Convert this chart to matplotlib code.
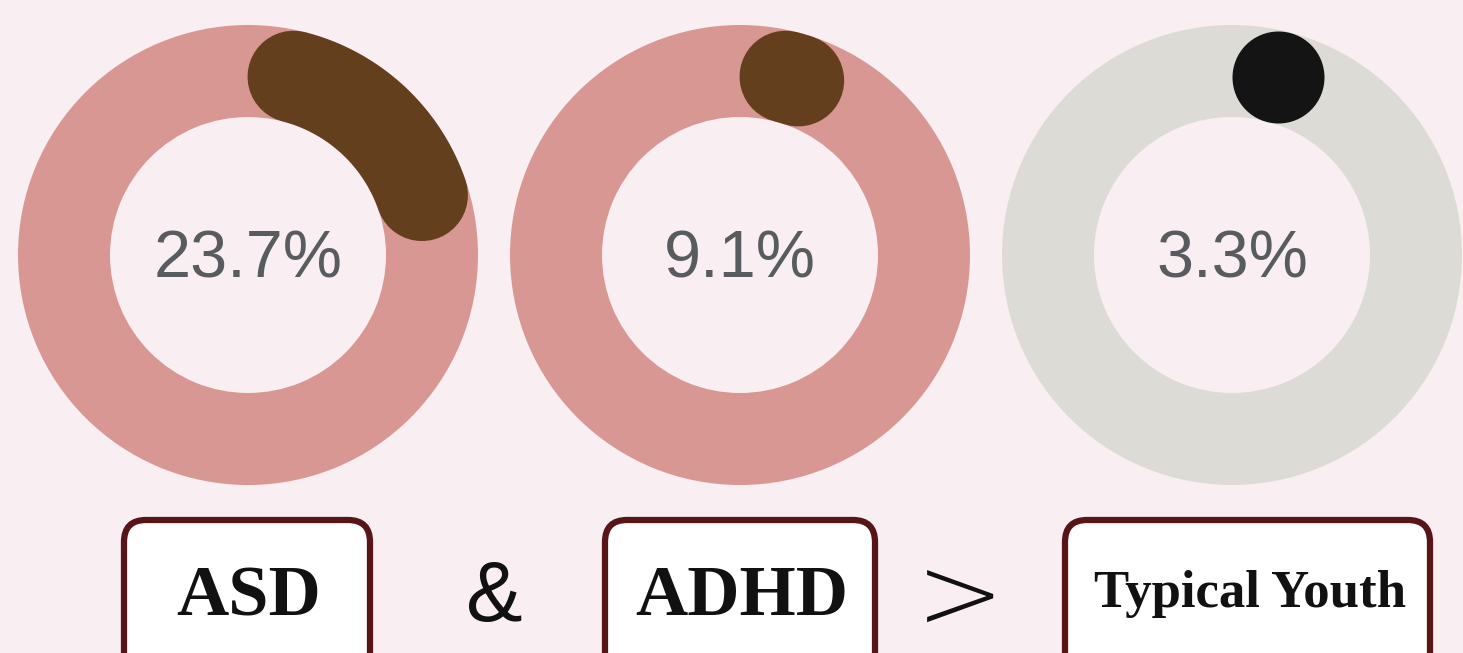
import numpy as np
import matplotlib
matplotlib.use("Agg")
import matplotlib.pyplot as plt
from matplotlib.patches import Wedge, FancyBboxPatch

# data
groups = ["ASD", "ADHD", "Typical Youth"]
rates = [23.7, 9.1, 3.3]
ring_colors = ["#D99794", "#D99794", "#DCDBD6"]
arc_colors = ["#643F1E", "#643F1E", "#141414"]
label_sizes = [52, 52, 38]
connectors = ["&", ">"]

bg = "#F9EEF2"
W, H = 1463, 653

fig = plt.figure(figsize=(W / 100, H / 100), dpi=100)
fig.patch.set_facecolor(bg)
ax = fig.add_axes([0, 0, 1, 1])
ax.set_xlim(0, W)
ax.set_ylim(H, 0)
ax.set_aspect("equal")
ax.axis("off")

centers = [248, 740, 1232]
cy = 255
r_out = 230
ring_w = 92
r_mid = r_out - ring_w / 2
lw_pt = ring_w * 72 / 100
cap = np.degrees((ring_w / 2) / r_mid)

for cx, rate, rc, ac in zip(centers, rates, ring_colors, arc_colors):
    ax.add_patch(Wedge((cx, cy), r_out, 0, 360, width=ring_w, facecolor=rc, edgecolor="none"))
    start = cap
    end = rate * 3.6 - cap
    if end > start:
        th = np.radians(np.linspace(start, end, 100))
        ax.plot(cx + r_mid * np.sin(th), cy - r_mid * np.cos(th), color=ac,
                lw=lw_pt, solid_capstyle="round")
    else:
        th = np.radians(start)
        ax.plot([cx + r_mid * np.sin(th)], [cy - r_mid * np.cos(th)], "o", color=ac,
                markersize=lw_pt, markeredgewidth=0)
    ax.text(cx, 277, f"{rate}%", ha="center", va="baseline", fontsize=48,
            family="Liberation Sans", color="#585C5E")

# label boxes
boxes = [(124, 370), (605, 875), (1065, 1430)]
label_y = [615, 615, 607]
for (x0, x1), name, fs, ly in zip(boxes, groups, label_sizes, label_y):
    ax.add_patch(FancyBboxPatch((x0, 520), x1 - x0, 160,
                                boxstyle="round,pad=0,rounding_size=22",
                                facecolor="white", edgecolor="#571518", lw=4.5))
    ax.text((x0 + x1) / 2 + 2, ly, name, ha="center", va="baseline", fontsize=fs,
            family="Liberation Serif", fontweight="bold", color="#111111")

ax.text(494, 621, connectors[0], ha="center", va="baseline", fontsize=61,
        family="Liberation Sans", color="#111111")
ax.text(960, 601, connectors[1], ha="center", va="center", fontsize=76,
        family="DejaVu Sans", fontweight="light", color="#111111")

fig.savefig("out.png", dpi=100, facecolor=bg)
